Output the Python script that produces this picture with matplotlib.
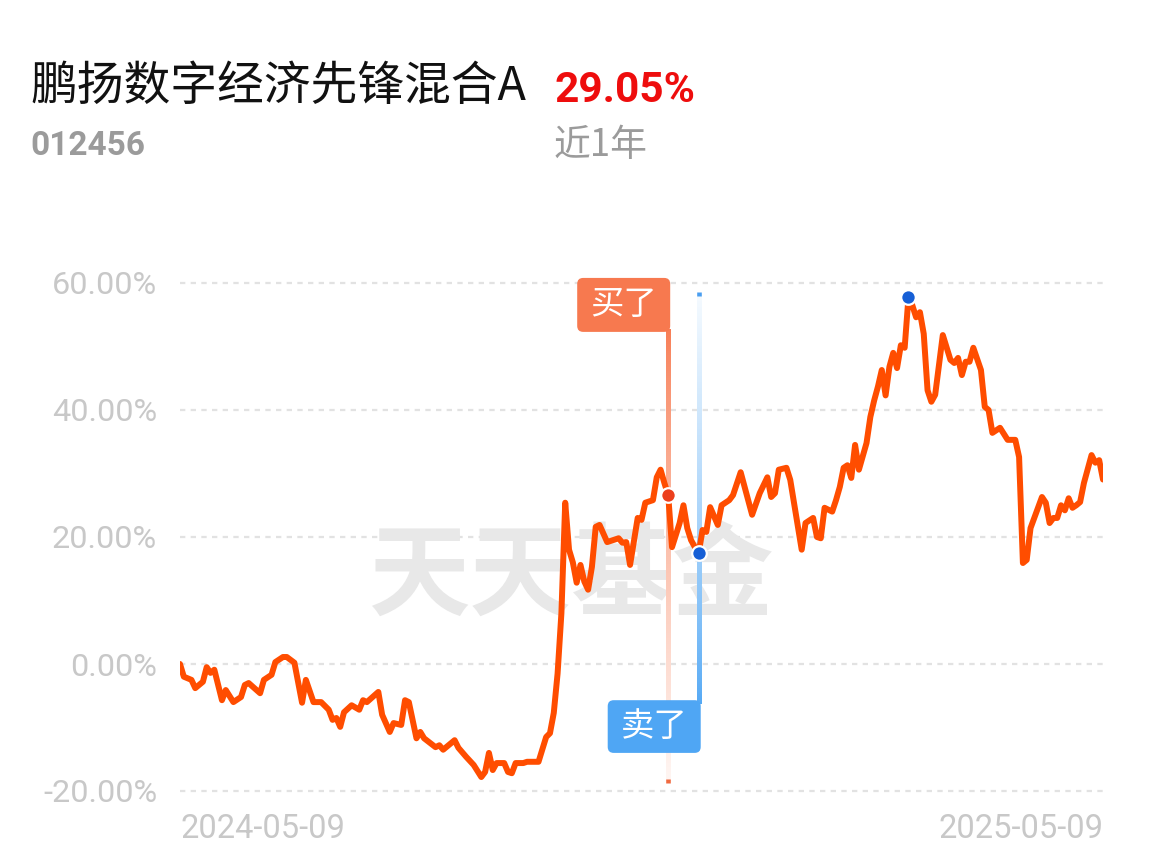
import matplotlib
matplotlib.use("Agg")
import matplotlib.pyplot as plt
import numpy as np
from matplotlib.collections import LineCollection
from matplotlib.patches import FancyBboxPatch
from matplotlib.transforms import IdentityTransform
from matplotlib.colors import to_rgb

# ---------------- data ----------------
fund_name = "鹏扬数字经济先锋混合A"
fund_code = "012456"
period_return = "29.05%"
period_label = "近1年"
start_date = "2024-05-09"
end_date = "2025-05-09"
n_days = 243
y_ticks = [-20, 0, 20, 40, 60]

days = [0, 1, 3, 4, 6, 7, 8, 9, 11, 12, 14, 16, 17, 18, 21, 22, 24, 25, 27, 28,
        30, 32, 33, 35, 37, 39, 40, 41, 42, 43, 45, 47, 48, 49, 52, 53, 55, 56, 58, 59,
        60, 62, 63, 64, 67, 68, 69, 72, 73, 75, 77, 79, 80, 81, 82, 83, 85, 86, 87, 88,
        90, 91, 94, 96, 97, 98, 99, 100, 101, 102, 103, 104, 105, 106, 107, 108, 109, 110, 112, 115,
        116, 117, 118, 120, 121, 122, 124, 125, 126, 127, 128, 129, 131, 132, 133, 134, 135, 136, 137, 138,
        139, 141, 142, 144, 145, 147, 150, 152, 154, 155, 156, 157, 159, 160, 162, 163, 164, 166, 167, 168,
        169, 171, 172, 173, 174, 175, 176, 177, 178, 180, 181, 182, 183, 184, 185, 186, 187, 188, 189, 190,
        191, 192, 193, 194, 195, 196, 197, 198, 200, 202, 203, 204, 205, 206, 207, 208, 210, 211, 212, 213,
        215, 217, 218, 219, 220, 221, 222, 223, 226, 227, 228, 229, 230, 231, 232, 233, 234, 235, 236, 237,
        239, 240, 241, 242]
returns = [0.0, -2.0, -2.5, -3.8, -2.8, -0.5, -1.4, -0.9, -5.7, -4.1, -6.0, -5.2, -3.3, -3.0, -4.6, -2.5, -1.7, 0.3, 1.1, 1.1,
           0.2, -6.1, -2.5, -6.0, -6.0, -7.2, -8.8, -8.5, -9.9, -7.6, -6.5, -7.2, -5.7, -6.0, -4.4, -8.0, -10.7, -9.3, -9.6, -5.7,
           -6.0, -11.7, -10.7, -11.7, -13.1, -12.8, -13.5, -12.0, -13.2, -14.6, -15.9, -17.8, -17.0, -14.0, -16.7, -15.6, -15.6, -17.0, -17.2, -15.6,
           -15.6, -15.4, -15.4, -11.5, -10.9, -7.7, -1.5, 8.0, 25.4, 18.0, 16.0, 12.8, 15.6, 13.0, 11.7, 15.3, 21.6, 21.9, 19.2, 19.8,
           19.1, 19.2, 15.6, 23.0, 22.7, 25.4, 25.8, 29.4, 30.6, 28.5, 26.6, 18.4, 22.2, 25.0, 21.4, 19.5, 18.4, 17.5, 21.1, 20.8,
           24.7, 21.9, 25.0, 25.8, 26.6, 30.2, 23.5, 26.9, 29.4, 26.3, 26.9, 30.6, 30.9, 29.0, 21.6, 18.0, 22.2, 23.0, 20.0, 19.8,
           24.6, 24.0, 25.8, 27.9, 30.9, 31.3, 29.3, 34.5, 30.6, 34.8, 38.9, 41.5, 43.7, 46.3, 42.3, 46.8, 49.0, 46.6, 50.2, 49.8,
           57.8, 56.5, 54.6, 55.4, 52.0, 43.1, 41.3, 42.4, 51.8, 47.9, 47.4, 48.2, 45.5, 47.6, 47.6, 49.8, 46.3, 40.5, 40.0, 36.4,
           37.2, 35.3, 35.3, 35.3, 32.6, 15.9, 16.4, 21.4, 26.3, 25.4, 22.2, 23.0, 23.0, 25.0, 24.2, 26.1, 24.6, 25.0, 25.5, 28.5,
           32.9, 31.7, 32.1, 29.05]
buy_day = 128
sell_day = 136
peak_day = 191

# ---------------- figure ----------------
W, H = 1150, 868
fig = plt.figure(figsize=(W / 100, H / 100), dpi=100)
fig.patch.set_facecolor("white")

CJK = ["Noto Sans CJK SC", "DejaVu Sans"]

def px(x, y):
    return x / W, 1 - y / H

fig.text(*px(30, 100), fund_name, family=CJK, fontsize=33.7, color="#111111", va="baseline", ha="left")
fig.text(*px(554, 102), period_return, family=["Roboto", "DejaVu Sans"], fontsize=30.5,
         fontweight="bold", color="#ee0d0d", va="baseline", ha="left")
fig.text(*px(30, 155), fund_code, family=["Roboto", "DejaVu Sans"], fontsize=24,
         fontweight="bold", color="#9b9b9b", va="baseline", ha="left")
fig.text(*px(554, 156), period_label, family=CJK, fontsize=26.5, color="#9b9b9b", va="baseline", ha="left")

ax = fig.add_axes([180 / W, 1 - 791 / H, 923 / W, 508 / H])
ax.set_xlim(0, n_days - 1)
ax.set_ylim(y_ticks[0], y_ticks[-1])
for s in ax.spines.values():
    s.set_visible(False)

for v in y_ticks:
    ax.axhline(v, color="#e2e2e2", lw=1.6, dashes=(2.4, 2.4), zorder=0, clip_on=False)

ax.set_yticks(y_ticks)
ax.set_yticklabels([f"{v:.2f}%" for v in y_ticks], family="Roboto", fontsize=23.3, color="#c8c8c8")
ax.tick_params(axis="y", length=0, pad=16.5)
ax.set_xticks([0, n_days - 1])
xl = ax.set_xticklabels([start_date, end_date], family="Roboto", fontsize=23.5, color="#c8c8c8")
xl[0].set_ha("left")
xl[1].set_ha("right")
ax.tick_params(axis="x", length=0, pad=16)

# watermark
ax.text(0.423, 0.418, "天天基金", transform=ax.transAxes, family=CJK, fontsize=73,
        fontweight="heavy", color="#e8e8e8", ha="center", va="center", zorder=0.5)

val = dict(zip(days, returns))
buy_val, sell_val, peak_val = val[buy_day], val[sell_day], val[peak_day]

def grad_vline(x, y_strong, y_faint, color, a0, a1, lw, power=1.0):
    """Vertical line whose colour fades from `color` to white (opaque blends, no seams)."""
    n = 200
    ys = np.linspace(y_strong, y_faint, n + 1)
    segs = [[(x, ys[i]), (x, ys[i + 1])] for i in range(n)]
    c = np.array(to_rgb(color))
    t = np.linspace(0, 1, n) ** power
    alphas = a0 + (a1 - a0) * t
    cols = alphas[:, None] * c[None, :] + (1 - alphas[:, None]) * np.ones(3)[None, :]
    lc = LineCollection(segs, colors=cols, linewidths=lw, zorder=2, capstyle="projecting",
                        antialiased=False, clip_on=False)
    ax.add_collection(lc)

buy_col = "#f7794f"
sell_col = "#4fa6f4"
grad_vline(buy_day, 52.5, -18.0, buy_col, 0.97, 0.08, 3.3, power=0.8)
grad_vline(sell_day, -5.8, 57.9, sell_col, 0.97, 0.07, 3.3, power=0.8)
ax.plot([buy_day, buy_day], [-18.1, -18.8], color="#f06a40", lw=3.3, solid_capstyle="butt", zorder=2, clip_on=False)
ax.plot([sell_day, sell_day], [57.9, 58.6], color="#4a9ef0", lw=3.3, solid_capstyle="butt", zorder=2, clip_on=False)

ax.plot(days, returns, color="#ff4d00", lw=4.3, solid_joinstyle="round", solid_capstyle="round", zorder=3)

ax.plot(buy_day, buy_val, "o", ms=10.5, mfc="#ec3f1d", mec="white", mew=1.6, zorder=5, clip_on=False)
ax.plot(sell_day, sell_val, "o", ms=10.5, mfc="#165fd6", mec="white", mew=1.6, zorder=5, clip_on=False)
ax.plot(peak_day, peak_val, "o", ms=10.5, mfc="#165fd6", mec="white", mew=1.6, zorder=5, clip_on=False)

# labels "买了" / "卖了"
def tag(day, y_top, y_bot, text, color):
    xd, yt = ax.transData.transform((day, y_top))
    _, yb = ax.transData.transform((day, y_bot))
    w = 93
    box = FancyBboxPatch((xd + 2 - w, yb), w, yt - yb, boxstyle="round,pad=0,rounding_size=6",
                         transform=IdentityTransform(), fc=color, ec="none", zorder=6)
    fig.patches.append(box)
    box.set_figure(fig)
    fig.text((xd + 2 - w / 2) / W, (yb + yt) / 2 / H, text, family=CJK, fontsize=24,
             color="white", ha="center", va="center", zorder=7)

tag(buy_day, 60.8, 52.3, "买了", buy_col)
tag(sell_day, -5.7, -14.0, "卖了", sell_col)

fig.savefig("out.png", dpi=100)
